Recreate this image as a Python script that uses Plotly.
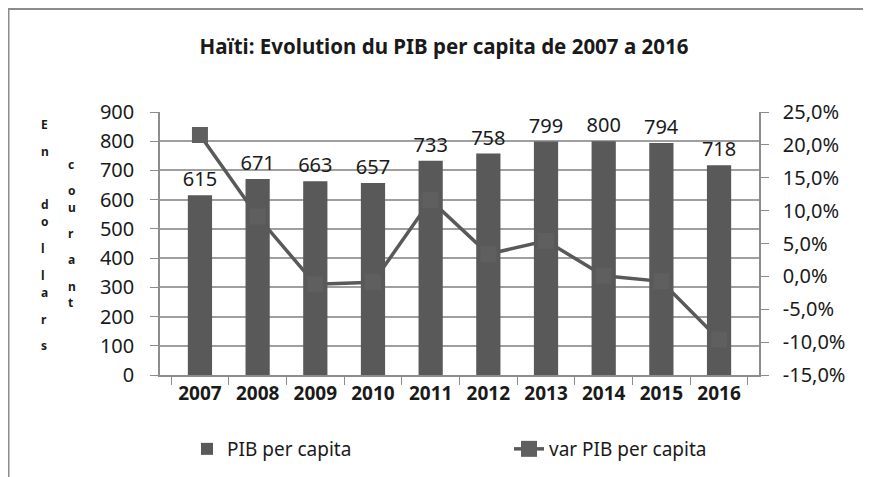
import plotly.graph_objects as go

annees = ["2007", "2008", "2009", "2010", "2011", "2012", "2013", "2014", "2015", "2016"]
pib_per_capita = [615, 671, 663, 657, 733, 758, 799, 800, 794, 718]
var_pib = [0.215, 0.091, -0.012, -0.009, 0.116, 0.034, 0.054, 0.001, -0.0075, -0.096]
ticks_var = [-0.15, -0.10, -0.05, 0.0, 0.05, 0.10, 0.15, 0.20, 0.25]
labels_var = ["-15,0%", "-10,0%", "-5,0%", "0,0%", "5,0%", "10,0%", "15,0%", "20,0%", "25,0%"]

gris = "#595959"
police = "Noto Sans"

# la page html ajoute une marge de 8px : tout est décalé de 8
D = 8
W, H = 871 - D, 477 - D
L, R, T, B = 160 - D, 759 - D, 112 - D, 375 - D   # zone de tracé


def px(x):
    return (x - D - L) / (R - L)


def py(y):
    return (B - (y - D)) / (B - T)


fig = go.Figure()
fig.add_trace(go.Bar(x=annees, y=pib_per_capita, name="PIB per capita",
                     marker=dict(color=gris, line=dict(width=0)),
                     width=0.42, text=pib_per_capita, textposition="outside",
                     constraintext="none", legend="legend",
                     textfont=dict(size=20, color="#1a1a1a"), cliponaxis=False))
fig.add_trace(go.Scatter(x=annees, y=var_pib, name="var PIB per capita", yaxis="y2",
                         mode="lines+markers", line=dict(color=gris, width=3.5),
                         legend="legend2",
                         marker=dict(symbol="square", size=16, color="#5f5f5f")))

# titre vertical de l'axe gauche, lettre par lettre
col1 = "En dollars"
col2 = "courant"
annots = []
for i, c in enumerate(col1):
    if c != " ":
        annots.append(dict(x=px(40), y=py(115 + i * 26.7), text=c))
for i, c in enumerate(col2):
    annots.append(dict(x=px(67), y=py(155 + i * 26.2), text=c))
for a in annots:
    a.update(xref="paper", yref="paper", showarrow=False, borderpad=0,
             font=dict(size=12, color="#1a1a1a", family=police, weight="bold"))

leg = dict(orientation="h", xref="container", yref="container",
           yanchor="top", xanchor="left", font=dict(size=19), itemwidth=30,
           y=1 - (430 - D) / H)

fig.update_layout(
    width=W, height=H,
    margin=dict(l=L, r=W - R, t=T, b=H - B, autoexpand=False),
    paper_bgcolor="white", plot_bgcolor="white",
    font=dict(family=police, size=20, color="#1a1a1a"),
    title=dict(text="Haïti: Evolution du PIB per capita de 2007 a 2016",
               xref="container", x=(444 - D) / W, xanchor="center",
               y=1 - (47 - D) / H, yanchor="middle",
               font=dict(size=20.5, weight="bold", color="#1a1a1a")),
    bargap=0.58,
    showlegend=True,
    legend=dict(leg, x=(187 - D) / W),
    legend2=dict(leg, x=(509 - D) / W),
    annotations=annots,
    xaxis=dict(type="category", showline=True, linecolor="#8c8c8c", linewidth=1.5,
               ticks="outside", tickson="boundaries", ticklen=8, tickcolor="#8c8c8c",
               tickfont=dict(size=19, weight="bold"), showgrid=False),
    yaxis=dict(range=[0, 900], dtick=100, showline=True, linecolor="#8c8c8c", linewidth=1.5,
               ticks="outside", ticklen=8, tickcolor="#8c8c8c",
               showgrid=True, gridcolor="#9f9f9f", gridwidth=1.5, zeroline=False,
               tickfont=dict(size=20), ticklabelstandoff=12),
    yaxis2=dict(range=[-0.15, 0.25], tickmode="array", tickvals=ticks_var, ticktext=labels_var,
                overlaying="y", side="right", showline=True, linecolor="#8c8c8c", linewidth=1.5,
                ticks="outside", ticklen=8, tickcolor="#8c8c8c", showgrid=False,
                zeroline=False, tickfont=dict(size=20), ticklabelstandoff=10),
    shapes=[
        dict(type="line", xref="paper", yref="paper", x0=px(8), x1=px(871), y0=py(9), y1=py(9),
             line=dict(color="#8c8c8c", width=2)),
        dict(type="line", xref="paper", yref="paper", x0=px(8.5), x1=px(8.5), y0=py(9), y1=py(477),
             line=dict(color="#8c8c8c", width=2)),
    ],
)

fig.write_html("out.html")
